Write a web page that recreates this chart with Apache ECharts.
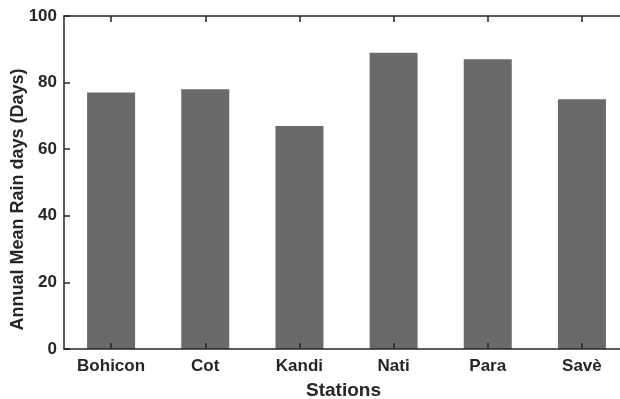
<!DOCTYPE html>
<html>
<head>
<meta charset="utf-8">
<script src="https://cdn.jsdelivr.net/npm/echarts@6/dist/echarts.min.js"></script>
<style>html,body{margin:0;padding:0;background:#fff}#c{width:620px;height:399px}</style>
</head>
<body>
<div id="c"></div>
<script>
const categories = ['Bohicon', 'Cot', 'Kandi', 'Nati', 'Para', 'Savè'];
const rainDays = [77, 78, 67, 89, 87, 75];
const yTicks = [0, 20, 40, 60, 80, 100];

const chart = echarts.init(document.getElementById('c'), null, {renderer: 'canvas'});
const axisColor = '#262626';
const font = '"Liberation Sans", Arial, Helvetica, sans-serif';
chart.setOption({
  animation: false,
  backgroundColor: '#ffffff',
  grid: {left: 64, top: 16, width: 565, height: 333, containLabel: false, outerBoundsMode: 'none'},
  xAxis: [{
    type: 'category',
    data: categories,
    position: 'bottom',
    z: 10,
    name: 'Stations',
    nameLocation: 'middle',
    nameGap: 32,
    nameMoveOverlap: false,
    nameTextStyle: {fontFamily: font, fontWeight: 'bold', fontSize: 19, color: '#262626', padding: [0, 6, 0, 0]},
    axisLine: {show: true, lineStyle: {color: axisColor, width: 1.5}},
    axisTick: {show: true, interval: 0, inside: true, length: 6, alignWithLabel: true, lineStyle: {color: axisColor, width: 1.5}},
    axisLabel: {fontFamily: font, fontWeight: 'bold', fontSize: 17, color: '#262626', margin: 9},
    splitLine: {show: false}
  }, {
    type: 'category',
    data: categories,
    position: 'top',
    z: 10,
    axisLine: {show: true, lineStyle: {color: axisColor, width: 1.5}},
    axisTick: {show: true, interval: 0, inside: true, length: 6, alignWithLabel: true, lineStyle: {color: axisColor, width: 1.5}},
    axisLabel: {show: false},
    splitLine: {show: false}
  }],
  yAxis: {
    type: 'value',
    min: yTicks[0],
    max: yTicks[yTicks.length - 1],
    interval: 20,
    z: 10,
    name: 'Annual Mean Rain days (Days)',
    nameLocation: 'middle',
    nameGap: 37,
    nameMoveOverlap: false,
    nameTextStyle: {fontFamily: font, fontWeight: 'bold', fontSize: 18, color: '#262626', padding: [0, 34, 0, 0]},
    axisLine: {show: true, lineStyle: {color: axisColor, width: 1.5}},
    axisTick: {show: true, inside: true, length: 6, lineStyle: {color: axisColor, width: 1.5}},
    axisLabel: {fontFamily: font, fontWeight: 'bold', fontSize: 17, color: '#262626', margin: 7},
    splitLine: {show: false}
  },
  series: [{
    type: 'bar',
    data: rainDays,
    barWidth: 48,
    itemStyle: {color: '#6a6a6a'}
  }]
});
</script>
</body>
</html>
